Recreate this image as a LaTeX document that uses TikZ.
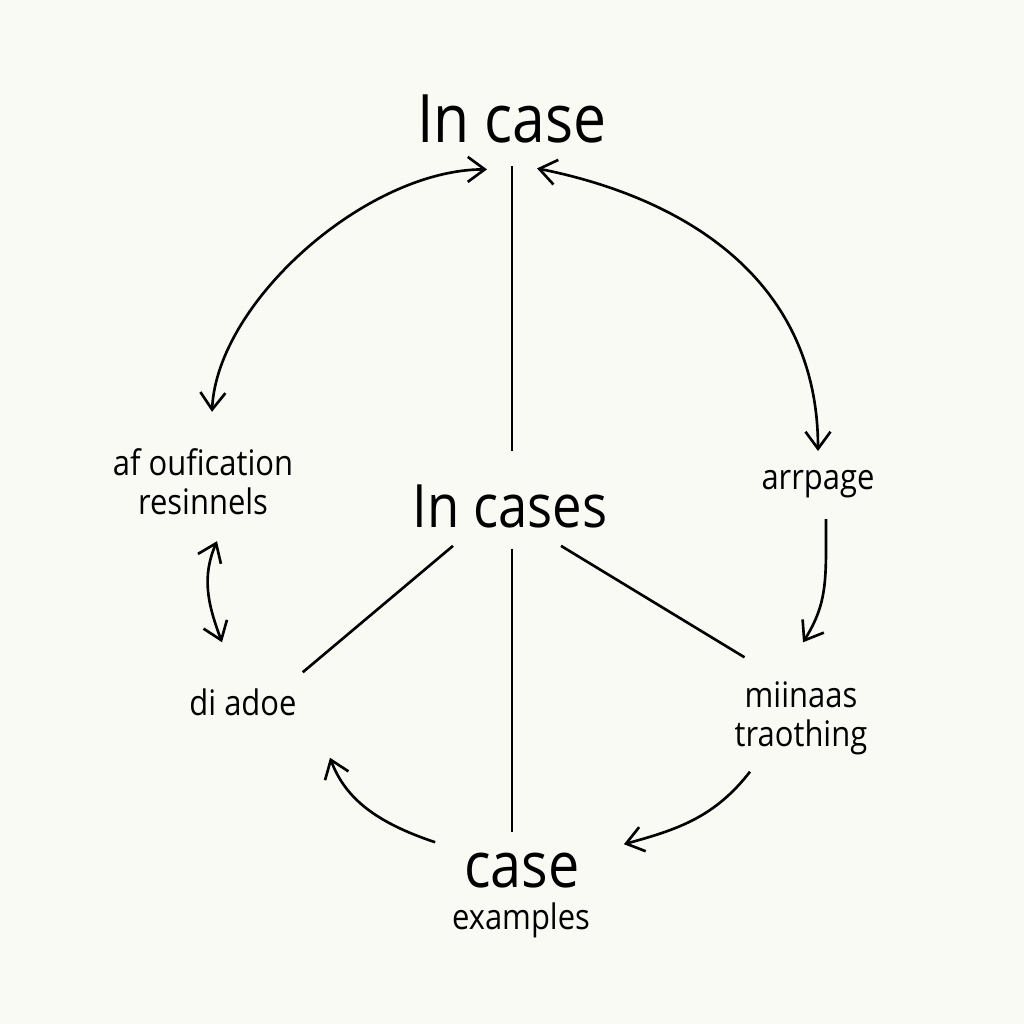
\documentclass[tikz,border=0pt]{standalone}
\usepackage{fontspec}
\setmainfont{Open Sans}[FakeStretch=0.88]
\usetikzlibrary{arrows.meta}
\definecolor{paper}{RGB}{250,250,245}
\tikzset{
  big/.style={font=\fontsize{19}{22}\selectfont, inner sep=1pt},
  mid/.style={font=\fontsize{17}{20}\selectfont, inner sep=1pt},
  lab/.style={font=\fontsize{10}{11}\selectfont, align=center, inner sep=1pt},
  ln/.style={line width=0.75pt},
  ar/.style={line width=0.75pt, -{Straight Barb[length=1.7mm,width=2.5mm]}},
  dar/.style={line width=0.75pt, {Straight Barb[length=1.7mm,width=2.5mm]}-{Straight Barb[length=1.7mm,width=2.5mm]}},
}

\begin{document}
\begin{tikzpicture}[x=0.01cm,y=-0.01cm]
\fill[paper] (0,0) rectangle (1024,1024);
\useasboundingbox (0,0) rectangle (1024,1024);
\node[big] (title) at (512,119) {In case};
\node[mid] (hub) at (510,506) {In cases};
\node[lab] (left) at (203,482) {af oufication\\resinnels};
\node[lab] (right) at (818,484) {arrpage};
\node[lab] (lowleft) at (243,702) {di adoe};
\node[lab] (lowright) at (801,718) {miinaas\\traothing};
\node[big, font=\fontsize{18}{20}\selectfont] (case) at (522,871) {case};
\node[lab] (examples) at (521,920) {examples};
\draw[ln, shorten <=1.9mm, shorten >=2.9mm] (title.south) -- (title.south |- hub.north);
\draw[ln, shorten <=1.7mm, shorten >=1.7mm] (title.south |- hub.south) -- (title.south |- case.north);
\draw[ln] ([shift={(-57,14)}]hub.south) -- ([shift={(2,-12)}]lowleft.north east);
\draw[ln] ([shift={(51,14)}]hub.south) -- ([shift={(14,-20)}]lowright.north west);
\draw[dar] ([shift={(-25,22)}]title.south) .. controls +(-120,0) and +(5,-110) .. ([shift={(9,-33)}]left.north);
\draw[dar] ([shift={(25,21)}]title.south) .. controls +(150,30) and +(0,-170) .. ([shift={(0,-15)}]right.north);
\draw[dar] ([shift={(14,22)}]left.south) .. controls +(-15,35) and +(-15,-40) .. ([shift={(-21,-42)}]lowleft.north);
\draw[ar] ([shift={(8,17)}]right.south) .. controls +(0,60) and +(25,-40) .. ([shift={(2,-35)}]lowright.north);
\draw[ar] ([shift={(-51,13)}]lowright.south) .. controls +(-35,45) and +(55,-15) .. ([shift={(40,-5)}]case.north east);
\draw[ar] ([shift={(-25,-7)}]case.north west) .. controls +(-60,-20) and +(15,40) .. ([shift={(87,38)}]lowleft.south);
\end{tikzpicture}
\end{document}
